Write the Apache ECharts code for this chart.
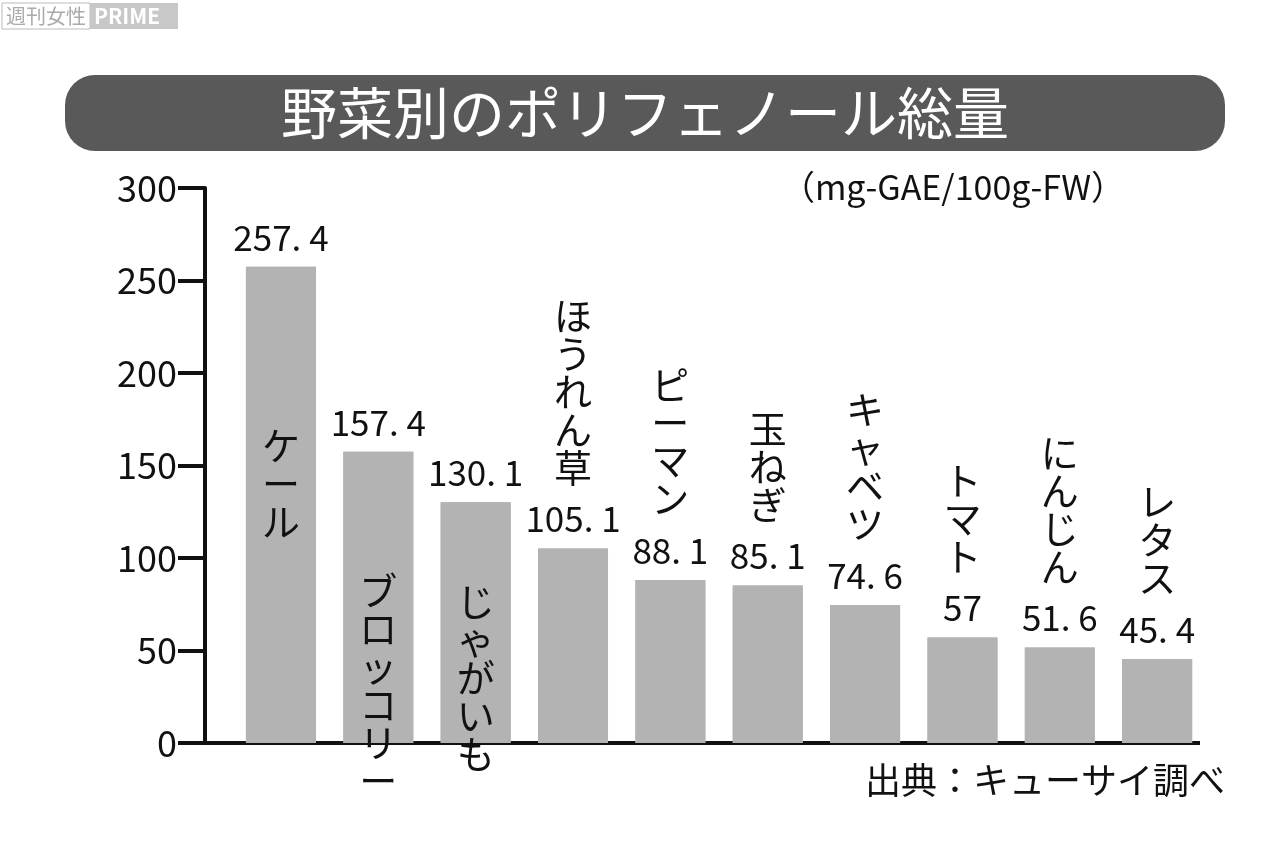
<!DOCTYPE html><html><head><meta charset="utf-8"><script src="https://cdn.jsdelivr.net/npm/echarts@6/dist/echarts.min.js"></script>
<style>html,body{margin:0;background:#fff}#c{width:1280px;height:853px}</style></head><body><div id="c"></div><script>
const categories=['ケール','ブロッコリー','じゃがいも','ほうれん草','ピーマン','玉ねぎ','キャベツ','トマト','にんじん','レタス'];
const values=[257.4,157.4,130.1,105.1,88.1,85.1,74.6,57,51.6,45.4];
const yTicks=[0,50,100,150,200,250,300];
const F='"Noto Sans CJK JP","Noto Sans",sans-serif';
const fmt=v=>String(v).replace('.','. ');
const vert=s=>s.split('').join('\n');
const chart=echarts.init(document.getElementById('c'));
chart.setOption({
animation:false,
grid:{left:205,right:80,top:188,bottom:110},
xAxis:{type:'value',min:-0.78,max:9.44,show:false},
yAxis:{type:'value',min:0,max:300,interval:50,
 axisLine:{show:true,onZero:false,lineStyle:{color:'#111',width:4}},
 axisTick:{show:true,inside:false,length:27,lineStyle:{color:'#111',width:4}},
 axisLabel:{fontSize:36,color:'#111',fontFamily:F,margin:28,formatter:v=>yTicks.includes(v)?String(v):''},
 splitLine:{show:false}},
graphic:[
 {type:'rect',shape:{x:65,y:75,width:1160,height:76,r:30},style:{fill:'#595959'}},
 {type:'text',x:645,y:113,style:{text:'野菜別のポリフェノール総量',fill:'#fff',font:'56px '+F,textAlign:'center',textVerticalAlign:'middle'}},
 {type:'text',x:1125,y:187,style:{text:'（mg-GAE/100g-FW）',fill:'#111',font:'34px '+F,textAlign:'right',textVerticalAlign:'middle'}},
 {type:'text',x:1225,y:780,style:{text:'出典：キューサイ調べ',fill:'#111',font:'36px '+F,textAlign:'right',textVerticalAlign:'middle'}},
 {type:'line',shape:{x1:178,y1:743,x2:1200,y2:743},style:{stroke:'#111',lineWidth:4}},
 {type:'rect',shape:{x:2,y:3,width:88,height:26},style:{fill:'#fff',stroke:'#bbb'}},
 {type:'rect',shape:{x:90,y:3,width:88,height:26},style:{fill:'#c8c8c8'}},
 {type:'text',x:6,y:16,style:{text:'週刊女性',fill:'#aaa',font:'20px '+F,textVerticalAlign:'middle'}},
 {type:'text',x:94,y:16,style:{text:'PRIME',fill:'#fff',font:'bold 21px '+F,textVerticalAlign:'middle'}}
],
series:[
 {type:'bar',barWidth:70,itemStyle:{color:'#b3b3b3'},data:values.map((v,i)=>[i,v]),
  label:{show:true,position:'top',distance:12,fontSize:35,color:'#111',fontFamily:F,formatter:p=>fmt(p.value[1])}},
 {type:'bar',barWidth:70,barGap:'-100%',itemStyle:{color:'#b3b3b3'},
  data:values.map((v,i)=>({value:[i,v],label:i<3?{position:'insideTop',distance:160-i*40}:{position:'top',distance:62}})),
  label:{show:true,fontSize:38,lineHeight:38,color:'#111',fontFamily:F,formatter:p=>vert(categories[p.value[0]])}}
]});
</script></body></html>
